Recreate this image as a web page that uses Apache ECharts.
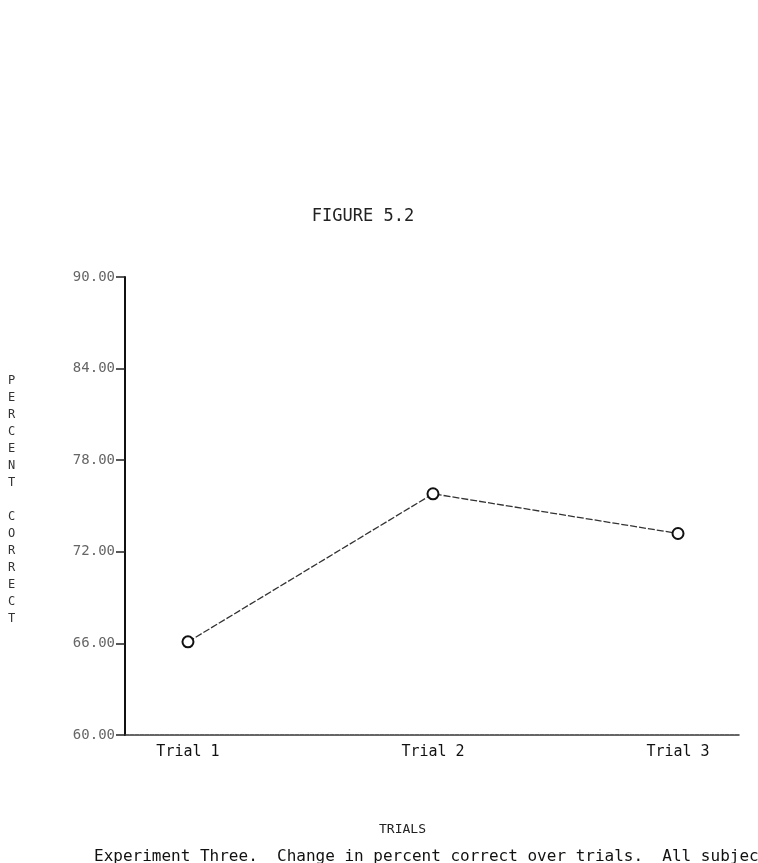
<!DOCTYPE html>
<html>
<head>
<meta charset="utf-8">
<script src="https://cdn.jsdelivr.net/npm/echarts@6/dist/echarts.min.js"></script>
<style>
  html, body { margin: 0; padding: 0; background: #fff; }
  #main { width: 758px; height: 863px; }
</style>
</head>
<body>
<div id="main"></div>
<script>
var trials = ['Trial 1', 'Trial 2', 'Trial 3'];
var percentCorrect = [66.1, 75.8, 73.2];
var yTicks = [60, 66, 72, 78, 84, 90];

var mono = '"DejaVu Sans Mono", "Liberation Mono", monospace';

var myChart = echarts.init(document.getElementById('main'));

var points = trials.map(function (t, i) {
  return [i + 1, percentCorrect[i]];
});

var option = {
  backgroundColor: '#fff',
  animation: false,
  title: {
    text: 'FIGURE 5.2',
    left: 358,
    top: 203,
    textAlign: 'center',
    textStyle: { fontFamily: mono, fontSize: 17, fontWeight: 'normal', color: '#222' }
  },
  grid: { left: 125, right: 18, top: 277, bottom: 128 },
  xAxis: {
    type: 'value',
    min: 0.743,
    max: 3.253,
    name: 'TRIALS',
    nameLocation: 'middle',
    nameGap: 88,
    nameTextStyle: { fontFamily: mono, fontSize: 13, color: '#222', padding: [0, 60, 0, 0] },
    axisLine: { show: true, lineStyle: { color: '#333', width: 1.5, type: [4, 1] } },
    axisTick: { show: false },
    splitLine: { show: false },
    axisLabel: {
      customValues: [1, 2, 3],
      formatter: function (v) { return trials[Math.round(v) - 1]; },
      fontFamily: mono,
      fontSize: 15,
      color: '#111',
      margin: 10
    }
  },
  yAxis: {
    type: 'value',
    min: yTicks[0],
    max: yTicks[yTicks.length - 1],
    interval: 6,
    axisLine: { show: true, lineStyle: { color: '#111', width: 2 } },
    axisTick: { show: true, inside: false, length: 9, lineStyle: { color: '#222', width: 1.5 } },
    splitLine: { show: false },
    axisLabel: {
      formatter: function (v) { return v.toFixed(2); },
      fontFamily: mono,
      fontSize: 14,
      color: '#666',
      margin: 10
    }
  },
  series: [{
    type: 'line',
    data: points,
    symbol: 'circle',
    symbolSize: 11,
    itemStyle: { color: '#fff', borderColor: '#111', borderWidth: 2 },
    lineStyle: { color: '#333', width: 1.3, type: [7, 2] }
  }],
  graphic: [{
    type: 'text',
    left: 8,
    top: 372,
    style: {
      text: 'PERCENT CORRECT'.split('').join('\n'),
      font: '12px ' + mono,
      lineHeight: 17,
      fill: '#333'
    }
  }, {
    type: 'text',
    left: 94,
    top: 849,
    style: {
      text: 'Experiment Three.  Change in percent correct over trials.  All subjects',
      font: '16px ' + mono,
      fill: '#111'
    }
  }]
};

myChart.setOption(option);
window.addEventListener('resize', function () {
  myChart.resize();
});
</script>
</body>
</html>
